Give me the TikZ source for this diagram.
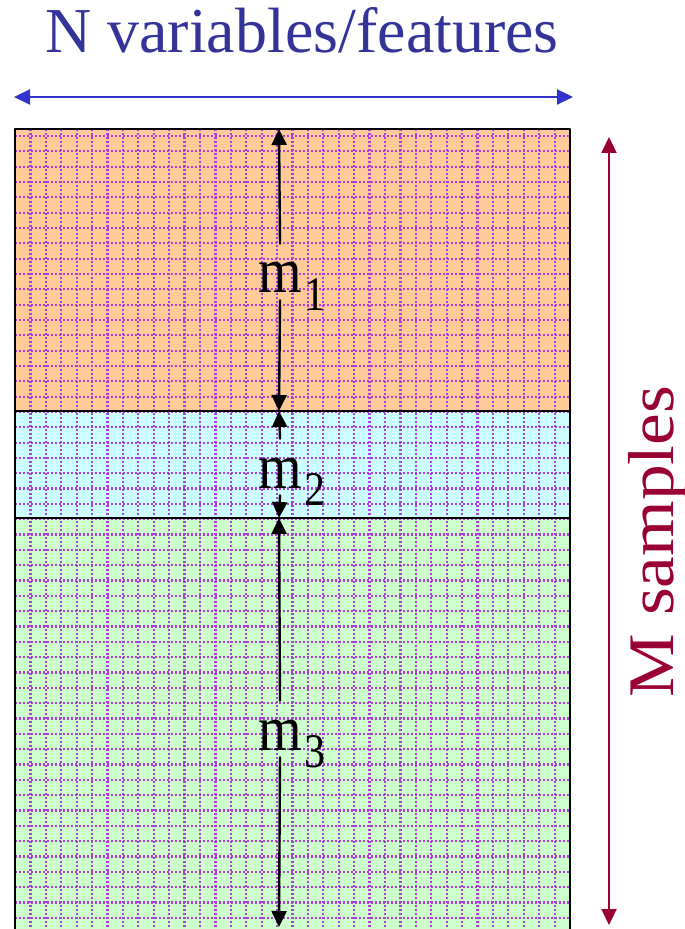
\documentclass[tikz,border=0pt]{standalone}
\usepackage{fontspec}
\setmainfont{Liberation Serif}
\usetikzlibrary{arrows.meta}

\definecolor{naranja}{RGB}{255,204,153}
\definecolor{celeste}{RGB}{204,255,255}
\definecolor{verdeclaro}{RGB}{204,255,204}
\definecolor{rejilla}{RGB}{175,60,225}
\definecolor{azultitulo}{RGB}{51,51,153}
\definecolor{azulflecha}{RGB}{51,51,204}
\definecolor{granate}{RGB}{153,0,51}

\newcommand{\etiquetam}[1]{\scalebox{1}[1.15]{m\rlap{\kern1.2pt\raisebox{-7.5pt}{\fontsize{21pt}{24pt}\selectfont #1}}}}

\begin{document}
\begin{tikzpicture}[line cap=round, line join=round, x=0.5pt, y=-0.5pt,
		punta/.style={-{Triangle[length=8pt,width=7.5pt]}, line width=1.2pt},
		doble/.style={{Triangle[length=8pt,width=7.5pt]}-{Triangle[length=8pt,width=7.5pt]}, line width=1.1pt},
		rejillalinea/.style={color=rejilla, line width=1.1pt, line cap=butt, dash pattern=on 1pt off 1pt},
		borde/.style={line width=1.3pt},
		etiqueta/.style={anchor=base, inner sep=0pt, text height=24.5pt, text depth=3.5pt, font=\fontsize{28pt}{30pt}\selectfont}]
		
		\useasboundingbox (0,0) rectangle (684,929);
		
		% Regiones de muestras
		\fill[naranja] (15,129) rectangle (570,411);
		\fill[celeste] (15,411) rectangle (570,518);
		\fill[verdeclaro] (15,518) rectangle (570,935);
		
		% Rejilla punteada
		\foreach \i in {1,...,35}
		\draw[rejillalinea] ({15+15.417*\i},129) -- ({15+15.417*\i},935);
		\foreach \j in {0,...,51}
		\draw[rejillalinea] (15,{136+15.33*\j}) -- (570,{136+15.33*\j});
		
		% Bordes
		\draw[borde] (15,935) -- (15,129) -- (570,129) -- (570,935);
		\draw[borde] (15,411) -- (570,411);
		\draw[borde] (15,518) -- (570,518);
		
		% Cotas m_1, m_2, m_3
		\coordinate (c0) at (279,129);
		\coordinate (c1) at (279,411);
		\coordinate (c2) at (279,518);
		\coordinate (c3) at (279,927);
		
		\node[etiqueta] (m1) at (280,293) {\etiquetam{1}};
		\node[etiqueta] (m2) at (280,488) {\etiquetam{2}};
		\node[etiqueta] (m3) at (280,750) {\etiquetam{3}};
		
		\draw[punta] (m1.north) -- (c0);
		\draw[punta] (m1.south) -- (c1);
		\draw[punta] (m2.north) -- (c1);
		\draw[punta] (m2.south) -- (c2);
		\draw[punta] (m3.north) -- (c2);
		\draw[punta] (m3.south) -- (c3);
		
		% Variables (azul)
		\node[azultitulo, anchor=base, font=\fontsize{32pt}{36pt}\selectfont] (titulo) at (302,53) {N variables/features};
		\coordinate (n0) at (14,97);
		\coordinate (n1) at (573,97);
		\draw[doble, azulflecha] (n0) -- (n1);
		
		% Muestras (granate)
		\node[granate, rotate=90, anchor=base, font=\fontsize{32.5pt}{36pt}\selectfont] (muestras) at (673,541.5) {\scalebox{1.1}[1]{M samples}};
		\coordinate (s0) at (609,137);
		\coordinate (s1) at (609,925);
		\draw[doble, granate] (s0) -- (s1);
		
	\end{tikzpicture}
\end{document}
